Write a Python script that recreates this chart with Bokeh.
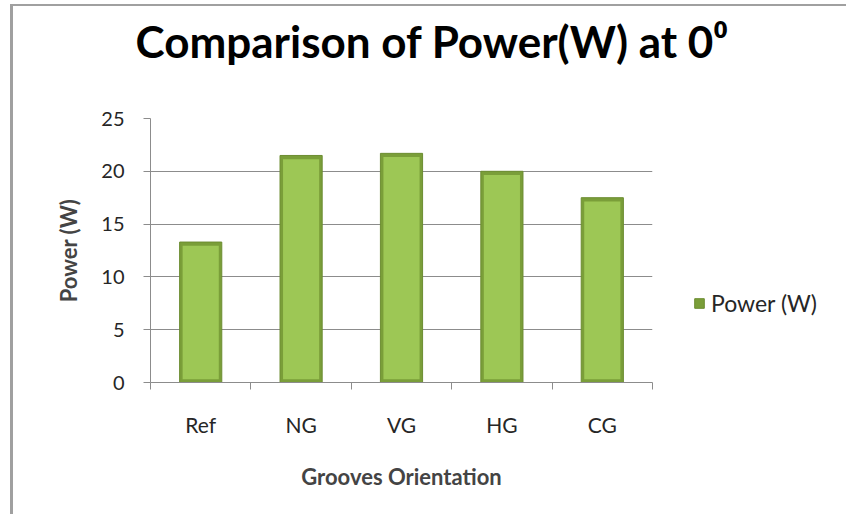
from bokeh.plotting import figure
from bokeh.models import (ColumnDataSource, Range1d, LinearAxis,
                          FixedTicker, Legend, LegendItem)
from bokeh.embed import file_html
from bokeh.resources import INLINE

categories = ["Ref", "NG", "VG", "HG", "CG"]
power_w = [13.3, 21.5, 21.7, 20.0, 17.5]
y_ticks = [0, 5, 10, 15, 20, 25]
series_name = "Power (W)"

n = len(categories)
centers = [i + 0.5 for i in range(n)]
src = ColumnDataSource(dict(x=centers, cat=categories, val=power_w,
                            inner=[v - 0.35 for v in power_w]))

FONT = "Lato"
GRAY = "#8c8c8c"

p = figure(frame_width=502, frame_height=264, x_range=Range1d(0, n),
           y_range=Range1d(0, 25), output_backend="svg", toolbar_location=None,
           x_axis_location=None, y_axis_location=None,
           min_border_left=137, min_border_right=194, min_border_top=112,
           min_border_bottom=132)
p.outline_line_color = None
p.background_fill_color = "white"
p.border_fill_color = "white"
p.styles = {"margin-left": "10px", "margin-top": "4px",
            "border-left": "3px solid #a0a0a0", "border-top": "2px solid #a0a0a0"}

# Title (a blank second line lifts the title within its panel)
p.title.text = "Comparison of Power(W) at 0\u2070\n "
p.title.text_font = FONT
p.title.text_font_style = "bold"
p.title.text_font_size = "44px"
p.title.text_color = "black"
p.title.align = "left"
p.title.offset = -15
p.title.standoff = 0

# Y axis
yax = LinearAxis(ticker=FixedTicker(ticks=y_ticks))
yax.axis_label = "Power (W)"
yax.axis_label_text_font = FONT
yax.axis_label_text_font_style = "bold"
yax.axis_label_text_font_size = "22px"
yax.axis_label_standoff = 16
yax.major_label_text_font = FONT
yax.major_label_text_font_size = "20px"
yax.major_label_text_color = "#262626"
yax.major_label_standoff = 19
yax.axis_line_color = GRAY
yax.major_tick_line_color = GRAY
yax.major_tick_out = 7
yax.major_tick_in = 0
yax.minor_tick_line_color = None
p.add_layout(yax, "left")

# X axis with boundary ticks (no labels)
eax = LinearAxis(ticker=FixedTicker(ticks=list(range(n + 1))))
eax.axis_line_color = GRAY
eax.major_tick_line_color = GRAY
eax.major_tick_out = 7
eax.major_tick_in = 0
eax.minor_tick_line_color = None
eax.major_label_text_font_size = "0px"
eax.major_label_standoff = 0
p.add_layout(eax, "below")

# X axis with category labels at bar centres
cax = LinearAxis(ticker=FixedTicker(ticks=centers))
cax.major_label_overrides = {c: lab for c, lab in zip(centers, categories)}
cax.axis_line_color = None
cax.major_tick_line_color = None
cax.minor_tick_line_color = None
cax.major_label_text_font = FONT
cax.major_label_text_font_size = "21px"
cax.major_label_text_color = "#262626"
cax.major_label_standoff = 16
cax.axis_label = "Grooves Orientation"
cax.axis_label_text_font = FONT
cax.axis_label_text_font_style = "bold"
cax.axis_label_text_font_size = "22px"
cax.axis_label_standoff = 23
p.add_layout(cax, "below")

# grid
p.ygrid.ticker = FixedTicker(ticks=y_ticks)
p.ygrid.grid_line_color = GRAY
p.ygrid.grid_line_width = 1
p.xgrid.grid_line_color = None

# bars: darker rim, lighter body
outer = p.vbar(x="x", top="val", width=0.42, bottom=0, source=src,
               fill_color="#7a9e39", line_color="#6c8d31", line_width=1)
p.vbar(x="x", top="inner", width=0.36, bottom=0.3, source=src,
       fill_color="#9dc755", line_color=None)

# invisible renderer used only as a spacer row in the legend
spacer = p.vbar(x="x", top="val", width=0.0, source=src,
                fill_alpha=0, line_alpha=0)

legend = Legend(items=[LegendItem(label=series_name, renderers=[outer]),
                       LegendItem(label=" ", renderers=[spacer])],
                location="bottom_left", label_text_font=FONT,
                label_text_font_size="23px", label_text_color="#262626",
                border_line_color=None, background_fill_alpha=0,
                glyph_width=12, glyph_height=12, label_standoff=6,
                label_height=24, spacing=0, padding=0, margin=41)
p.add_layout(legend, "right")

open("out.html", "w").write(file_html(p, INLINE))
